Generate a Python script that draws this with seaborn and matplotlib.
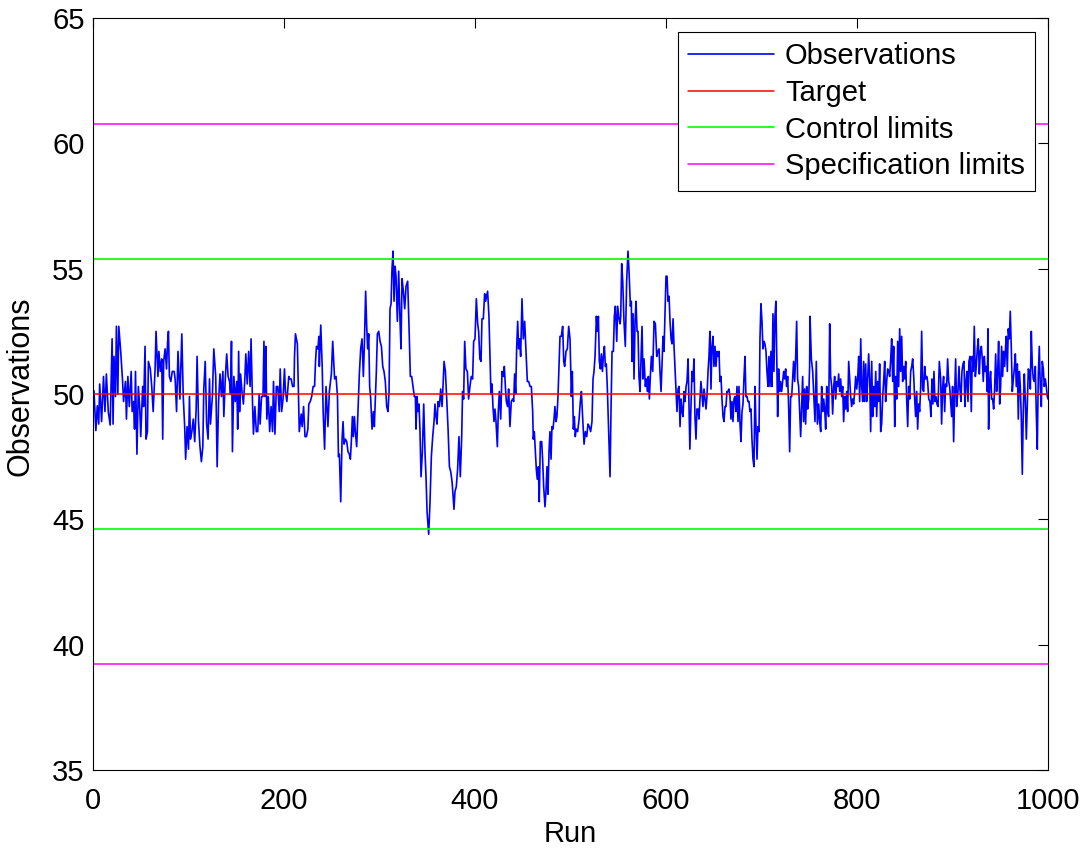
import matplotlib
matplotlib.use("Agg")
import matplotlib.pyplot as plt
import pandas as pd
import seaborn as sns

sns.set_theme(style="white")
plt.rcParams['font.family'] = ['Liberation Sans', 'DejaVu Sans']
plt.rcParams['text.color'] = 'black'
plt.rcParams['axes.labelcolor'] = 'black'

# ---- reference levels ----
target = 50.0
control_limits = [44.63, 55.37]
spec_limits = [39.23, 60.77]

x_ticks = [0, 200, 400, 600, 800, 1000]
y_ticks = [35, 40, 45, 50, 55, 60, 65]

# ---- observations, (run, value) per segment ----
seg1 = [(1, 50.13), (3, 48.54), (4.5, 49.53), (6, 48.8), (7, 50.4), (9, 48.9), (11, 50.7), (12.5, 49.3),
        (14, 50.8), (16, 49.3), (18, 48.76), (20, 52.2), (21, 48.8), (22, 51.5), (23.5, 49.9), (24.5, 52.7),
        (26, 50.0), (27, 52.7), (29, 51.7), (31, 50.5), (32, 49.7), (34, 50.5), (35, 49.0), (36.5, 50.7),
        (38, 49.5), (40, 50.9), (41, 49.3), (42.5, 49.7), (43.5, 48.6), (44.5, 50.9), (46, 47.6), (47.5, 50.3),
        (49, 49.4), (50, 48.3), (52, 50.3), (53, 49.5), (54.5, 51.9), (55.5, 48.2), (57, 48.5), (58, 51.3),
        (60, 51.0), (61.5, 50.3), (63, 49.3), (65, 51.0), (66, 52.5), (68, 50.7), (69, 51.7), (70.5, 50.9),
        (72, 51.4), (73, 48.2), (74, 51.3), (75.5, 51.8), (77, 51.0), (78, 52.0), (79, 52.5), (80, 50.7),
        (81.5, 50.5), (83, 50.9), (85, 50.9), (86, 50.6), (87.5, 49.3), (89, 51.7), (91, 49.8), (93, 52.4),
        (94.5, 49.9), (96, 48.7), (97, 47.4), (98.5, 48.7), (100, 47.8), (101, 49.9), (102, 48.2), (103.5, 48.5),
        (105, 49.0), (106.5, 48.1), (108, 49.4), (109, 51.5), (110.5, 48.9), (112, 47.9), (113.5, 47.3),
        (115, 47.9), (116, 50.2), (117.5, 51.3), (119, 48.8), (120.5, 48.2), (122, 50.6), (123, 48.8),
        (125, 49.9), (126.5, 51.8)]
seg2 = [(128.5, 50.7), (130, 47.1), (131.5, 49.7), (133, 50.8), (134.5, 49.9), (136, 50.9), (137, 49.1),
        (138.5, 50.6), (140, 51.6), (141.5, 50.7), (143, 50.5), (144, 50.0), (145, 52.1), (146, 47.7),
        (147.5, 50.7), (149, 49.7), (150.5, 50.5), (151.5, 48.6), (152.5, 51.7), (153.5, 49.3), (154.5, 50.8),
        (156, 50.1), (157.5, 49.6), (159, 50.6), (160, 51.6), (161.5, 50.4), (163, 51.7), (164.5, 50.3),
        (165.5, 52.2), (167, 49.7), (168, 48.4), (169.5, 49.5), (171, 48.5), (172.5, 48.5), (174, 50.0),
        (175, 48.8), (176.5, 49.9), (178, 49.9), (179, 52.1), (180, 49.9), (181, 51.9), (182, 49.0),
        (183.5, 49.9), (185, 48.5), (186.5, 49.5), (188, 48.5), (189, 50.5), (190.5, 48.4), (192, 50.3),
        (193.5, 50.3), (195, 49.3), (196, 51.0), (197.5, 49.3), (199, 49.8), (200.5, 51.0), (201.5, 50.1),
        (203, 49.7), (205, 50.7), (206, 50.6), (207.5, 50.6), (209, 50.3), (210.5, 50.3), (211, 51.5),
        (212, 52.4), (214, 52.0), (215, 50.3), (216, 48.5), (218, 49.2), (219, 48.7), (220.5, 49.5),
        (222, 48.3), (223.5, 48.3), (225, 48.6), (226, 49.6), (227.5, 49.7), (229, 49.9), (230.5, 50.3),
        (232, 50.3), (233, 51.3), (234, 51.9), (235.5, 51.8), (236.5, 52.3), (237, 51.1), (238.5, 52.75),
        (240, 51.1), (241, 49.3), (242.5, 47.8), (244, 50.3), (246, 48.7), (247.5, 50.1)]
seg3 = [(249.6, 50.8), (251, 52.1), (253, 50.6), (254.5, 50.7), (256, 49.9), (257, 47.5), (258, 47.6),
        (259.4, 45.7), (260.8, 48.2), (261.8, 48.9), (262.9, 48.0), (264.3, 48.2), (265.7, 48.1), (267, 47.7),
        (268.4, 47.6), (269.5, 47.4), (270.5, 48.1), (271.6, 49.1), (272.6, 48.3), (273.7, 49.1), (274.7, 48.5),
        (276.1, 47.9), (277.5, 49.4), (278.9, 50.8), (280.3, 51.8), (281.7, 52.2), (283.1, 50.7), (284.1, 51.9),
        (285.5, 54.1), (286.6, 52.7), (287.6, 51.8), (288.7, 52.4), (289.7, 50.3), (290.8, 49.8), (292.2, 48.6),
        (293.6, 49.3), (294.6, 48.7), (295.7, 49.8), (296.7, 50.9), (297.8, 52.4), (299.2, 52.5), (300.6, 52.1),
        (302, 51.9), (303.4, 51.1), (304.7, 50.9), (306.1, 50.5), (307.5, 49.5), (308.9, 49.3), (310, 50.1),
        (311, 53.4), (312.1, 53.6), (313.1, 55.0), (314.2, 55.7), (315.2, 53.7), (316.3, 55.1), (317.3, 54.7),
        (318.7, 52.9), (320.1, 54.9), (321.5, 52.9), (322.5, 51.8), (323.6, 54.6), (325, 54.1), (326.4, 53.4),
        (327.8, 54.3), (329.5, 54.5), (330.9, 52.7), (332.3, 50.7), (333.7, 50.7), (335.1, 50.3), (336.5, 49.9),
        (337.6, 49.9), (338.2, 48.6), (339.3, 49.9), (340.3, 49.3), (341.4, 49.6), (342.4, 48.5), (343.5, 46.7),
        (344.9, 47.7), (346.3, 49.6), (347.7, 47.6), (348.7, 46.7), (349.8, 45.3), (351.5, 44.4), (352.9, 45.7),
        (354.3, 47.5), (355.7, 48.3), (357.1, 48.9), (358.1, 49.6), (359.2, 49.1), (360.2, 48.8), (361.3, 49.7),
        (362.7, 49.5), (364.1, 50.2), (365.5, 49.5), (366.5, 50.3), (367.6, 51.3), (369, 50.9), (370.4, 49.8),
        (371.8, 48.6), (373.2, 47.1), (374.6, 46.9), (376, 46.5)]
seg4 = [(378, 45.4), (379, 46.1), (380.4, 46.3), (381.8, 47.0), (383.2, 48.3), (384.6, 46.7), (386, 48.2),
        (387, 50.1), (388.1, 49.8), (389.2, 52.1), (390.5, 51.0), (392, 50.9), (393.3, 49.8), (394.7, 50.3),
        (396.1, 50.7), (397.5, 50.6), (398.6, 52.1), (400, 52.2), (401.4, 53.8), (402.8, 52.8), (403.8, 52.5),
        (405.1, 51.4), (406.3, 51.3), (407.3, 53.0), (408.7, 53.0), (410.1, 54.0), (411.1, 53.7), (412.2, 53.9),
        (413.2, 54.1), (414.6, 53.1), (415.7, 51.4), (416.7, 50.0), (417.8, 50.4), (418.8, 49.5), (419.9, 48.9),
        (420.9, 49.4), (422, 48.9), (423.4, 47.9), (424.4, 49.3), (425.5, 50.1), (426.9, 49.0), (428.3, 50.9),
        (429.7, 50.7), (430.7, 51.1), (431.8, 50.3), (432.8, 49.7), (434.2, 49.5), (435.2, 50.2), (436.6, 48.7),
        (438, 49.7), (439.4, 49.8), (440.5, 49.7), (441.5, 50.8), (442.6, 50.0), (443.6, 51.8), (444.7, 52.9),
        (445.7, 51.8), (446.8, 52.2), (447.8, 51.5), (449.2, 53.8), (450.6, 52.2), (452, 52.9), (453.4, 51.7),
        (454.8, 50.5), (456.2, 50.5), (457.6, 50.3), (459, 50.3), (460.4, 49.3), (461, 48.2), (462.1, 48.5),
        (463.1, 47.8), (464.2, 47.0), (465.2, 46.6), (466.3, 47.1), (467.3, 45.7), (468.4, 48.1), (469.8, 48.1),
        (470.8, 47.4), (471.9, 46.3), (473.3, 45.5), (474.3, 46.1), (475.4, 47.1), (476.4, 46.0), (477.5, 47.7),
        (478.5, 48.5), (479.6, 47.4), (480.6, 48.7), (481.7, 48.6), (482.7, 49.0), (483.7, 49.5), (484.8, 48.9),
        (485.8, 49.1), (486.9, 49.9), (487.9, 51.1), (489, 52.3), (490.4, 52.3), (491.8, 52.7), (492.9, 51.3),
        (493.9, 51.1), (495.3, 51.7), (496.7, 51.8), (498.1, 52.7), (499.5, 52.2), (500.9, 49.9), (501.9, 50.9),
        (503, 48.6)]
seg5 = [(504, 49.1), (505, 48.3), (506, 48.6), (507.5, 48.5), (509, 49.0), (510.3, 49.7), (511.4, 50.1),
        (512.8, 49.0), (514.2, 48.0), (515.6, 48.5), (517, 48.3), (518.3, 48.8), (519.7, 48.7), (521.1, 48.5),
        (522.5, 48.9), (523.6, 50.6), (524.6, 50.9), (525.7, 51.5), (527.1, 53.1), (528.1, 52.5), (529.2, 53.1),
        (530.2, 51.3), (531.3, 51.0), (532.3, 51.6), (533.4, 50.9), (534.4, 51.5), (535.5, 51.9), (536.5, 51.1),
        (537.5, 51.2), (538.6, 50.2), (540, 48.5), (541.4, 46.7), (542.4, 49.3), (543.5, 51.7), (544.9, 51.7),
        (545.9, 53.1), (547, 53.5), (548.4, 52.1), (549.4, 53.5), (550.8, 53.0), (551.9, 52.8), (552.6, 53.1),
        (553.6, 55.2), (554.7, 54.5), (556, 52.9), (557.4, 51.9), (558.8, 54.5), (560.2, 55.7), (561.3, 54.9),
        (562.7, 53.5), (563.7, 53.7), (564.4, 51.3), (565.5, 53.2), (566.5, 50.6), (567.6, 52.9), (568.6, 53.7),
        (569.7, 52.5), (570.7, 52.5), (571.7, 50.7), (572.8, 50.1), (573.8, 51.4), (574.9, 52.7), (575.9, 50.6),
        (577, 51.4), (578.4, 50.3), (579.4, 50.6), (580.5, 50.1), (581.5, 50.7), (582.6, 49.8), (583.6, 50.7),
        (584.7, 51.5), (586.1, 50.9), (587.5, 52.9), (588.9, 52.8), (590.3, 51.5), (591.6, 51.7), (592.7, 51.8),
        (593.7, 50.9), (594.8, 50.1), (595.8, 51.1), (596.9, 52.3), (597.9, 51.7), (599, 53.2), (600, 54.7),
        (601.1, 54.7), (602.1, 53.7), (603.2, 53.9), (604.2, 52.9), (605.3, 52.2), (606.3, 52.0), (607.4, 53.0),
        (608.4, 51.9), (609.5, 51.0), (610.5, 50.2), (611.5, 49.3), (612.6, 50.2), (613.6, 50.3), (614.7, 48.7),
        (615.7, 49.8), (616.8, 49.3), (617.8, 49.1), (618.9, 50.1), (619.9, 49.7), (621, 50.3), (622, 50.5),
        (623.1, 51.4), (624.1, 49.5)]
seg6 = [(625, 47.8), (626, 49.3), (627.2, 50.9), (628.2, 50.5), (629.3, 51.4), (630.3, 49.1), (631.4, 48.2),
        (632.4, 49.4), (633.5, 49.4), (634.5, 49.0), (635.6, 49.8), (636.6, 50.5), (637.7, 50.0), (638.7, 49.5),
        (639.8, 50.2), (640.8, 49.8), (641.9, 49.4), (642.9, 49.9), (644, 50.9), (645, 51.5), (646, 52.5),
        (647.1, 50.2), (648.1, 51.9), (649.2, 52.3), (650.2, 51.1), (651.3, 51.9), (652.3, 51.1), (653.4, 51.7),
        (654.4, 51.5), (655.5, 51.7), (656.5, 50.5), (657.6, 50.7), (658.6, 49.8), (659.7, 49.1), (660.7, 48.9),
        (661.8, 49.5), (662.8, 49.5), (663.8, 50.1), (664.9, 50.1), (665.9, 50.2), (667, 49.9), (668, 49.0),
        (669.1, 49.7), (670.1, 48.9), (671.2, 49.8), (672.2, 49.9), (673.3, 49.3), (674.3, 50.3), (675.4, 48.9),
        (676.4, 50.3), (677.5, 48.8), (678.5, 48.1), (679.6, 49.3), (680.6, 49.6), (681.6, 50.6), (682.7, 51.5),
        (683.7, 49.9), (684.8, 49.9), (685.8, 49.7), (686.9, 49.7), (687.9, 49.3), (689, 49.4), (690, 48.2),
        (691.1, 47.4), (692.1, 47.1), (693.2, 50.3), (694.2, 48.7), (695.3, 47.4), (696.3, 48.7), (697.4, 48.5),
        (698.4, 52.2), (699.4, 53.6), (700.5, 52.9), (701.5, 51.8), (702.6, 52.1), (703.6, 52.0), (704.7, 51.7),
        (705.7, 50.9), (706.8, 50.3), (707.8, 51.5), (708.9, 50.3), (709.9, 51.7), (711, 50.3), (712, 53.2),
        (713, 50.9), (714.1, 53.1), (715.1, 53.7), (716.2, 50.9), (716.9, 49.1), (717.9, 51.0), (719, 50.1),
        (720, 50.5), (721.1, 50.1), (722.1, 50.5), (723.2, 50.9), (724.2, 50.6), (725.3, 51.0), (726.3, 50.3),
        (727.4, 50.7), (728.4, 49.5), (729.5, 47.7), (730.5, 49.9), (731.6, 49.9), (732.6, 50.6), (733.6, 51.3),
        (734.7, 50.5), (735.7, 51.4), (736.8, 52.9), (737.8, 50.6), (738.9, 50.3), (739.9, 49.3), (741, 48.3),
        (742, 49.5), (743.1, 50.7), (744.1, 48.9), (745.2, 50.2), (746.2, 48.8), (747.3, 50.3), (748.3, 49.4),
        (749.4, 49.8), (750.4, 51.1)]
seg7 = [(750.8, 53.1), (752.2, 51.4), (753.6, 50.9), (754.6, 50.1), (756, 48.9), (757.4, 51.3), (758.5, 48.8),
        (759.9, 49.6), (760.9, 48.9), (762, 48.5), (763, 50.3), (764.1, 49.3), (765.1, 49.8), (766.2, 49.4),
        (767.2, 48.6), (768.3, 50.3), (769.3, 49.3), (770.3, 49.1), (771.4, 52.8), (772.4, 50.7), (773.5, 50.3),
        (774.5, 49.2), (775.6, 50.3), (776.6, 50.7), (777.7, 49.8), (778.7, 50.5), (779.8, 50.3), (780.8, 50.8),
        (781.9, 50.1), (782.9, 50.6), (784, 49.9), (785, 50.3), (786, 48.9), (787.1, 49.9), (788.1, 49.4),
        (789.2, 50.1), (790.2, 49.3), (791.3, 51.3), (792.3, 50.6), (793.4, 49.9), (794.4, 49.5), (795.5, 49.8),
        (796.5, 49.6), (797.6, 50.1), (798.6, 50.7), (799.7, 50.2), (800.7, 50.6), (801.8, 51.5), (802.8, 49.7),
        (803.9, 52.2), (804.9, 50.3), (806, 49.7), (807, 51.3), (808, 49.7), (809.1, 51.2), (810.1, 49.7),
        (811.2, 50.6), (812.2, 51.6), (813.3, 50.6), (814.3, 48.5), (815.4, 51.3), (816.4, 49.1), (817.5, 50.3),
        (818.5, 49.5), (819.6, 50.9), (820.6, 49.1), (821.7, 50.5), (822.7, 49.7), (823.7, 51.2), (824.8, 48.5),
        (825.8, 48.8), (826.9, 49.9), (827.9, 50.5), (829, 51.3), (830, 49.7), (831.1, 50.5), (832.1, 51.0),
        (833.2, 50.9), (834.2, 50.7), (835.3, 51.4), (836.3, 52.2), (837.4, 50.5), (838.4, 51.9), (839.5, 48.7),
        (840.5, 50.7), (841.6, 49.8), (842.6, 52.1), (843.6, 50.3), (844.7, 52.6), (845.7, 50.9), (846.8, 52.3),
        (847.8, 50.5), (848.9, 51.1), (849.9, 50.6), (851, 51.3), (852, 49.8), (853.1, 48.7), (854.1, 50.3),
        (855.2, 49.8), (856.2, 50.9), (857.3, 51.1), (858.3, 51.4), (859.4, 50.7), (860.4, 49.8), (861.4, 49.1),
        (862.5, 50.1), (863.5, 48.6), (864.6, 49.6), (865.6, 49.3), (866.7, 50.3), (867.7, 52.5), (868.8, 50.2),
        (869.8, 50.1), (870.9, 51.1), (871.9, 50.6), (873, 50.7), (874, 50.5), (875.1, 49.8)]
seg8 = [(876.4, 49.7), (877.4, 49.1), (878.5, 50.6), (879.5, 49.6), (880.6, 50.9), (881.6, 49.7), (882.7, 49.9),
        (883.7, 49.6), (884.8, 49.5), (886.2, 51.3), (887.6, 50.6), (888.6, 48.8), (889.7, 50.3), (890.7, 50.7),
        (891.8, 49.3), (892.8, 50.4), (893.9, 50.3), (894.9, 51.4), (896, 50.5), (897, 50.3), (898.1, 49.7),
        (899.1, 49.1), (900.1, 50.3), (901.2, 48.1), (902.2, 49.9), (903.3, 51.4), (904.3, 49.5), (905.7, 50.1),
        (906.8, 51.1), (907.8, 50.2), (908.9, 49.7), (909.9, 50.9), (911, 51.2), (912, 51.3), (913, 49.5),
        (914.1, 50.5), (915.1, 50.9), (916.2, 49.7), (917.2, 51.3), (918.3, 51.5), (919.7, 49.3), (920.7, 51.5),
        (921.8, 50.9), (922.8, 52.7), (923.9, 50.7), (924.9, 51.1), (926, 51.8), (927, 52.2), (928.1, 50.8),
        (929.1, 51.7), (930.2, 51.9), (931.2, 51.4), (932.2, 50.5), (933.3, 51.5), (934.3, 50.9), (935.4, 51.1),
        (936.4, 50.1), (937.1, 52.6), (937.8, 48.6), (938.9, 50.5), (939.9, 50.9), (941, 49.8), (942, 49.8),
        (943.1, 49.4), (944.1, 50.2), (945.2, 51.6), (946.2, 50.1), (947.3, 50.9), (948.3, 52.1), (949.4, 49.6),
        (950.4, 50.3), (951.4, 51.9), (952.5, 50.7), (953.5, 51.7), (954.6, 51.1), (955.6, 51.9), (956.3, 52.3),
        (957.4, 50.9), (958.4, 52.6), (959.5, 52.2), (960.5, 53.3), (961.6, 51.8), (962.6, 50.1), (963.7, 50.6),
        (964.7, 51.0), (965.8, 51.6), (966.8, 50.3), (967.9, 51.2), (968.9, 49.0), (970, 50.9), (971, 50.3),
        (972, 49.1), (973.1, 46.8), (974.1, 49.3), (975.2, 50.8), (976.2, 49.8), (977.3, 48.2), (978.3, 49.5),
        (979.4, 51.0), (980.4, 50.9), (981.5, 50.2), (982.5, 52.5), (983.6, 51.1), (984.6, 50.6), (985.7, 50.5),
        (986.7, 51.1), (987.7, 49.3), (988.8, 47.8), (989.8, 50.7), (990.9, 51.9), (991.9, 50.3), (993, 49.5),
        (994, 51.3), (995.1, 51.0), (996.1, 50.3), (997.2, 50.6), (998.2, 50.3), (999.3, 49.9), (1000, 49.8)]

segments = [seg1, seg2, seg3, seg4, seg5, seg6, seg7, seg8]
runs = [r for seg in segments for r, _ in seg]
obs = [v for seg in segments for _, v in seg]
df = pd.DataFrame({"Run": runs, "Observations": obs})

W, H = 1087, 848
fig = plt.figure(figsize=(W / 100, H / 100), dpi=100)
fig.patch.set_facecolor("white")
ax = fig.add_axes([93 / W, 1 - 770 / H, (1048 - 93) / W, (770 - 18) / H])
ax.set_facecolor("white")

sns.lineplot(data=df, x="Run", y="Observations", ax=ax, color=(0, 0, 1), lw=1.2,
             label="Observations", sort=False, estimator=None)
ax.axhline(target, color=(1, 0, 0), lw=1.1, label="Target")
for i, c in enumerate(control_limits):
    ax.axhline(c, color=(0, 1, 0), lw=1.2, label="Control limits" if i == 0 else None)
for i, s in enumerate(spec_limits):
    ax.axhline(s, color=(1, 0, 1), lw=1.1, label="Specification limits" if i == 0 else None)

ax.set_xlim(0, 1000)
ax.set_ylim(35, 65)
ax.set_xticks(x_ticks)
ax.set_yticks(y_ticks)
ax.tick_params(direction="in", top=True, right=True, labelsize=21, length=7, width=0.8,
               color="black", labelcolor="black")
ax.tick_params(axis="x", pad=12)
ax.tick_params(axis="y", pad=6)
for sp in ax.spines.values():
    sp.set_color("black")
    sp.set_linewidth(0.8)
ax.set_xlabel("Run", fontsize=21, color="black", labelpad=4)
ax.set_ylabel("Observations", fontsize=22, color="black", labelpad=6)
ax.yaxis.set_label_coords(-0.060, 0.51)
ax.grid(False)

leg = ax.legend(loc="upper right", bbox_to_anchor=(0.9864, 0.9814), fontsize=21, frameon=True,
                fancybox=False, framealpha=1, edgecolor="black", handlelength=2.95,
                handletextpad=0.38, labelspacing=0.3, borderpad=0.35, borderaxespad=0)
leg.get_frame().set_linewidth(0.8)
for t in leg.get_texts():
    t.set_color("black")

fig.savefig("out.png", dpi=100, facecolor="white")
